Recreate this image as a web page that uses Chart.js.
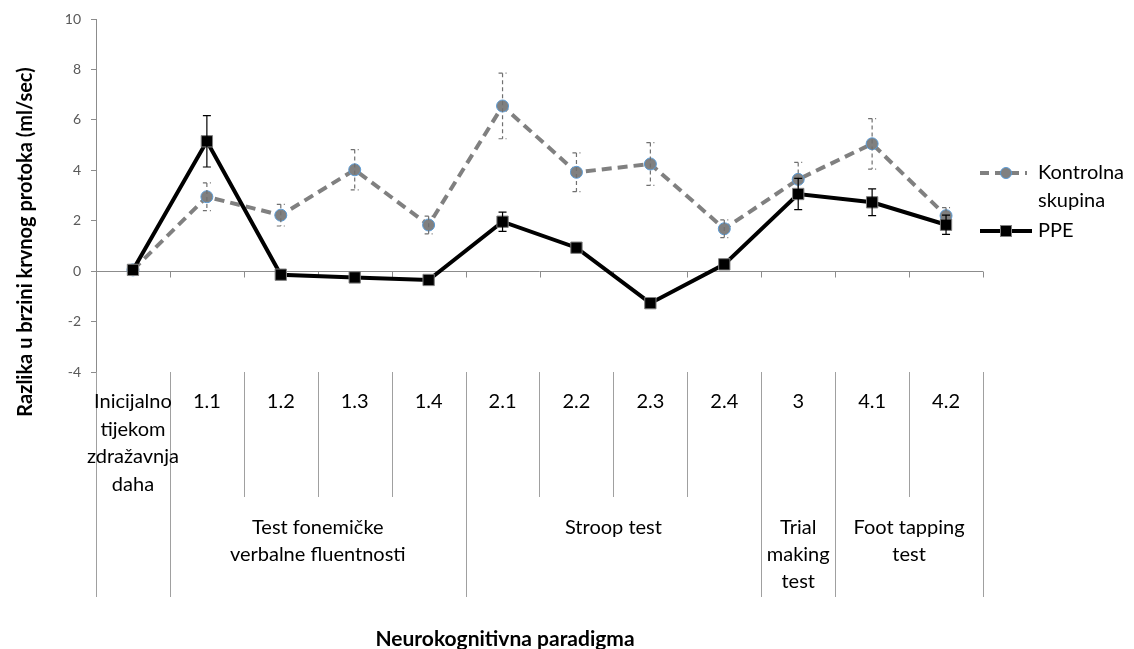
<!DOCTYPE html>
<html>
<head>
<meta charset="utf-8">
<script src="https://cdn.jsdelivr.net/npm/chart.js@4.4.1/dist/chart.umd.min.js"></script>
<style>
  body { margin: 0; background: #fff; }
  #wrap { width: 1134px; height: 649px; position: relative; }
</style>
</head>
<body>
<div id="wrap"><canvas id="chart"></canvas></div>
<script>
// categories (first row of the axis table)
const categories = [
  ["Inicijalno", "tijekom", "zdražavnja", "daha"],
  ["1.1"], ["1.2"], ["1.3"], ["1.4"],
  ["2.1"], ["2.2"], ["2.3"], ["2.4"],
  ["3"], ["4.1"], ["4.2"]
];

// second row: group name, first and last category index
const groups = [
  { lines: ["Test fonemičke", "verbalne fluentnosti"], from: 1, to: 4 },
  { lines: ["Stroop test"], from: 5, to: 8 },
  { lines: ["Trial", "making", "test"], from: 9, to: 9 },
  { lines: ["Foot tapping", "test"], from: 10, to: 11 }
];

const kontrolna = [0.05, 2.95, 2.22, 4.02, 1.83, 6.55, 3.92, 4.25, 1.68, 3.64, 5.05, 2.2];
const kontrolnaErr = [0, 0.55, 0.43, 0.8, 0.35, 1.3, 0.77, 0.85, 0.35, 0.67, 1.0, 0.32];

const ppe = [0.05, 5.15, -0.14, -0.25, -0.35, 1.96, 0.93, -1.27, 0.27, 3.06, 2.73, 1.84];
const ppeErr = [0.05, 1.02, 0.1, 0.1, 0.1, 0.38, 0.1, 0.15, 0.1, 0.62, 0.53, 0.38];

const yTicks = [-4, -2, 0, 2, 4, 6, 8, 10];

const FONT = "Lato, 'Open Sans', sans-serif";
const AXIS_GREY = "#8c8c8c";

// error bars drawn right after each dataset
const errorBars = {
  id: "errorBars",
  afterDatasetDraw(chart, args) {
    const ds = chart.data.datasets[args.index];
    const errs = ds.errors;
    if (!errs) return;
    const { ctx } = chart;
    const y = chart.scales.y;
    const meta = args.meta;
    ctx.save();
    ctx.strokeStyle = ds.errColor;
    ctx.lineWidth = 1.2;
    ctx.setLineDash(ds.errDash);
    meta.data.forEach((pt, i) => {
      const e = errs[i];
      if (!e) return;
      const v = ds.data[i];
      const top = y.getPixelForValue(v + e);
      const bot = y.getPixelForValue(v - e);
      ctx.beginPath();
      ctx.moveTo(pt.x, top); ctx.lineTo(pt.x, bot);
      ctx.moveTo(pt.x - 4, top); ctx.lineTo(pt.x + 4, top);
      ctx.moveTo(pt.x - 4, bot); ctx.lineTo(pt.x + 4, bot);
      ctx.stroke();
    });
    ctx.restore();
  }
};

// zero axis line, category table, titles and legend
const decor = {
  id: "decor",
  beforeDatasetsDraw(chart) {
    const { ctx, chartArea } = chart;
    const x = chart.scales.x;
    const y = chart.scales.y;
    const step = (chartArea.right - chartArea.left) / categories.length;
    const y0 = Math.round(y.getPixelForValue(0)) + 0.5;
    ctx.save();
    ctx.strokeStyle = AXIS_GREY;
    ctx.lineWidth = 1;
    ctx.beginPath();
    ctx.moveTo(chartArea.left, y0);
    ctx.lineTo(chartArea.right, y0);
    for (let i = 1; i <= categories.length; i++) {
      const bx = Math.round(x.getPixelForValue(i - 1) + step / 2) + 0.5;
      ctx.moveTo(bx, y0);
      ctx.lineTo(bx, y0 + 6);
    }
    ctx.stroke();
    ctx.restore();
  },
  afterDraw(chart) {
    const { ctx, chartArea } = chart;
    const x = chart.scales.x;
    const step = (chartArea.right - chartArea.left) / categories.length;
    const top = chartArea.bottom;
    const edge = i => Math.round(x.getPixelForValue(i) - step / 2) + 0.5;

    // long separators at group edges, short ones inside groups
    const longEdges = new Set([0, 1, categories.length]);
    groups.forEach(g => { longEdges.add(g.from); longEdges.add(g.to + 1); });

    ctx.save();
    ctx.strokeStyle = "#a0a0a0";
    ctx.lineWidth = 1;
    ctx.beginPath();
    for (let i = 0; i <= categories.length; i++) {
      const bx = edge(i);
      ctx.moveTo(bx, top);
      ctx.lineTo(bx, longEdges.has(i) ? top + 225 : top + 125);
    }
    ctx.stroke();

    ctx.fillStyle = "#000";
    ctx.font = "20px " + FONT;
    ctx.textAlign = "center";
    ctx.textBaseline = "middle";
    categories.forEach((lines, i) => {
      const cx = x.getPixelForValue(i);
      lines.forEach((t, k) => ctx.fillText(t, cx, top + 30 + k * 27.5));
    });
    groups.forEach(g => {
      const cx = (x.getPixelForValue(g.from) + x.getPixelForValue(g.to)) / 2;
      g.lines.forEach((t, k) => ctx.fillText(t, cx, top + 156 + k * 27));
    });

    // axis titles
    ctx.font = "bold 21px " + FONT;
    ctx.fillText("Neurokognitivna paradigma", 505, 639);
    ctx.save();
    ctx.translate(26, 242);
    ctx.rotate(-Math.PI / 2);
    ctx.font = "bold 20px " + FONT;
    ctx.fillText("Razlika u brzini krvnog protoka (ml/sec)", 0, 0);
    ctx.restore();

    // legend
    ctx.textAlign = "left";
    ctx.font = "20px " + FONT;
    ctx.lineWidth = 4;
    ctx.strokeStyle = "#808080";
    ctx.setLineDash([9, 6]);
    ctx.beginPath(); ctx.moveTo(980, 173); ctx.lineTo(1027, 173); ctx.stroke();
    ctx.setLineDash([]);
    ctx.beginPath(); ctx.arc(1006, 173, 5.5, 0, Math.PI * 2);
    ctx.fillStyle = "#808080"; ctx.fill();
    ctx.lineWidth = 1; ctx.strokeStyle = "#5b9bd5"; ctx.stroke();
    ctx.fillStyle = "#000";
    ctx.fillText("Kontrolna", 1038, 173);
    ctx.fillText("skupina", 1038, 201);

    ctx.lineWidth = 4; ctx.strokeStyle = "#000";
    ctx.beginPath(); ctx.moveTo(980, 231); ctx.lineTo(1032, 231); ctx.stroke();
    ctx.fillRect(1000, 225, 12, 12);
    ctx.lineWidth = 1; ctx.strokeStyle = "#808080";
    ctx.strokeRect(1000.5, 225.5, 11, 11);
    ctx.fillText("PPE", 1038, 231);
    ctx.restore();
  }
};

new Chart(document.getElementById("chart"), {
  type: "line",
  data: {
    labels: categories.map(c => c.join(" ")),
    datasets: [
      {
        label: "Kontrolna skupina",
        data: kontrolna,
        errors: kontrolnaErr,
        errColor: "#707070",
        errDash: [4, 3],
        borderColor: "#808080",
        borderWidth: 4,
        borderDash: [10, 6],
        pointStyle: "circle",
        pointRadius: 6,
        pointBackgroundColor: "#808080",
        pointBorderColor: "#5b9bd5",
        pointBorderWidth: 1,
        tension: 0,
        order: 2
      },
      {
        label: "PPE",
        data: ppe,
        errors: ppeErr,
        errColor: "#000",
        errDash: [],
        borderColor: "#000",
        borderWidth: 4,
        pointStyle: "rect",
        pointRadius: 8,
        pointBackgroundColor: "#000",
        pointBorderColor: "#808080",
        pointBorderWidth: 1,
        tension: 0,
        order: 1
      }
    ]
  },
  options: {
    responsive: true,
    maintainAspectRatio: false,
    animation: false,
    layout: { padding: { left: 0, top: 19, right: 151, bottom: 277 } },
    plugins: {
      legend: { display: false },
      tooltip: { enabled: false }
    },
    scales: {
      x: {
        type: "category",
        display: false,
        offset: true
      },
      y: {
        min: -4,
        max: 10,
        afterFit(scale) { scale.width = 96; },
        afterBuildTicks(scale) { scale.ticks = yTicks.map(v => ({ value: v })); },
        grid: {
          drawOnChartArea: false,
          drawTicks: true,
          tickLength: 5,
          color: AXIS_GREY
        },
        border: { display: true, color: AXIS_GREY },
        ticks: {
          color: "#595959",
          padding: 10,
          font: { family: FONT, size: 14 }
        }
      }
    }
  },
  plugins: [errorBars, decor]
});
</script>
</body>
</html>
